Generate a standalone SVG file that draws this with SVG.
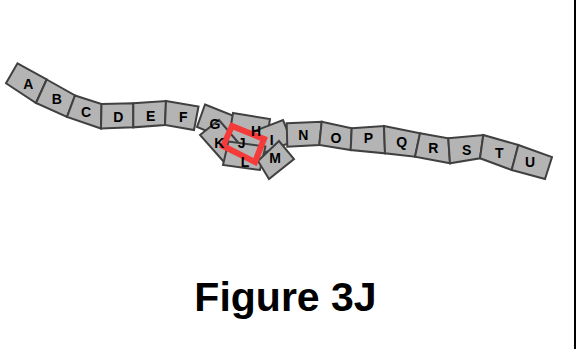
<svg xmlns="http://www.w3.org/2000/svg" width="579" height="350" viewBox="0 0 579 350">
<style>
.b{fill:#b4b4b4;stroke:#404040;stroke-width:2;stroke-linejoin:miter}
.t{font-family:"Liberation Sans",Arial,sans-serif;font-weight:bold;font-size:14px;fill:#000;text-anchor:middle}
.hl{fill:none;stroke:#f53a3a;stroke-width:6;stroke-linejoin:miter}
.title{font-family:"Liberation Sans",Arial,sans-serif;font-weight:bold;font-size:41px;fill:#000;text-anchor:middle}
</style>
<rect width="579" height="350" fill="#fff"/>
<g id="A"><polygon class="b" points="17.5,63.3 46.7,79.5 36,103 6,83.3"/></g>
<g id="B"><polygon class="b" points="46.7,79.5 75,95.5 67,117 36,103"/></g>
<g id="C"><polygon class="b" points="75,95.5 101.5,104 101,128.5 67,117"/></g>
<g id="D"><polygon class="b" points="101.5,104 133.3,103.3 133.3,127.3 101,128.5"/></g>
<g id="E"><polygon class="b" points="133.3,103.3 166,101 165,125 133.3,127.3"/></g>
<g id="F"><polygon class="b" points="166,101 198.5,106.5 194,130 165,125"/></g>
<g id="G"><polygon class="b" points="205,104.5 234,116 226,139 197,127"/></g>
<g id="H"><polygon class="b" points="233,113 270,119 266,143 229,137"/></g>
<g id="I"><polygon class="b" points="252,132 283,120 292,142 261,154"/></g>
<g id="J"><polygon class="b" points="232,126 264,139 255,162 223,146"/></g>
<g id="K"><polygon class="b" points="200,135 219,120 242,147 224,162"/></g>
<g id="L"><polygon class="b" points="228.4,141.6 265.4,146.6 260,170 223,165"/></g>
<g id="M"><polygon class="b" points="258,161 279,141 294,159 269,179"/></g>
<g id="N"><polygon class="b" points="286.7,123.3 321.7,121.7 319.3,145 287.3,146.7"/></g>
<g id="O"><polygon class="b" points="321.7,121.7 351.7,128.3 350.7,150 319.3,145"/></g>
<g id="P"><polygon class="b" points="351.7,128.3 384,126 385,153.3 350.7,150"/></g>
<g id="Q"><polygon class="b" points="384,126 420,133.3 415,156.7 385,153.3"/></g>
<g id="R"><polygon class="b" points="420,133.3 448.3,138.3 450,163.3 415,156.7"/></g>
<g id="S"><polygon class="b" points="448.3,138.3 483.3,135 480,158.3 450,163.3"/></g>
<g id="T"><polygon class="b" points="483.3,135 518.3,145 511.7,170 480,158.3"/></g>
<g id="U"><polygon class="b" points="518.3,145 552,157 545,179 511.7,170"/></g>
<g id="highlight"><polygon class="hl" points="232,126 264,139 255,162 223,146"/></g>
<g id="labels">
<text class="t" x="28.3" y="89">A</text>
<text class="t" x="56.7" y="104.3">B</text>
<text class="t" x="86" y="116.7">C</text>
<text class="t" x="118.3" y="121.7">D</text>
<text class="t" x="150.7" y="121">E</text>
<text class="t" x="183.3" y="121.7">F</text>
<text class="t" x="215" y="129">G</text>
<text class="t" x="256" y="135.7">H</text>
<text class="t" x="271.7" y="145">I</text>
<text class="t" x="241.7" y="147.7">J</text>
<text class="t" x="219.3" y="147.7">K</text>
<text class="t" x="245" y="166.7">L</text>
<text class="t" x="275" y="163.3">M</text>
<text class="t" x="303.3" y="140">N</text>
<text class="t" x="336" y="142.7">O</text>
<text class="t" x="368.3" y="143.3">P</text>
<text class="t" x="401.7" y="146.7">Q</text>
<text class="t" x="433.3" y="153.3">R</text>
<text class="t" x="466.7" y="155">S</text>
<text class="t" x="499.3" y="158.3">T</text>
<text class="t" x="530" y="166.7">U</text>
</g>
<g id="connectors"></g>
<line x1="575" y1="0" x2="575" y2="349" stroke="#000" stroke-width="2"/>
<text class="title" x="285.5" y="311">Figure 3J</text>
</svg>
